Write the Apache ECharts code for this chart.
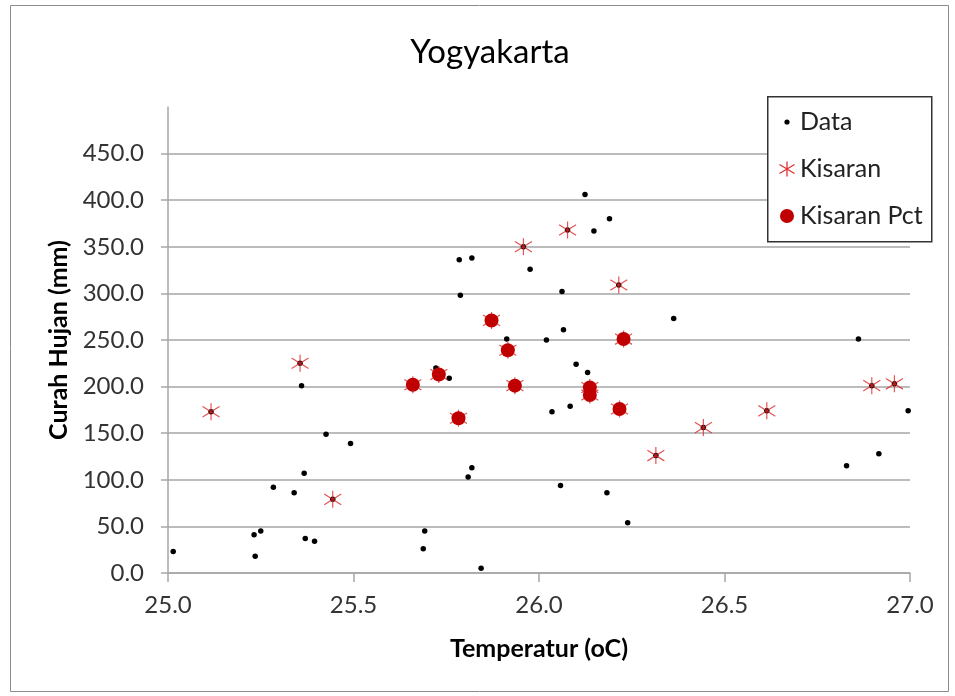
<!DOCTYPE html>
<html><head><meta charset="utf-8">
<script src="https://cdn.jsdelivr.net/npm/echarts@6/dist/echarts.min.js"></script>
<style>html,body{margin:0;padding:0;background:#fff}#c{width:955px;height:696px}</style>
</head><body><div id="c"></div>
<script>
// Data series (Temperatur oC, Curah Hujan mm)
const dataPoints = [
 [25.014,23],[25.232,41],[25.250,45],[25.235,18],[25.284,92],[25.340,86],[25.360,201],[25.367,107],
 [25.370,37],[25.395,34],[25.426,149],[25.492,139],[25.688,26],[25.692,45],[25.722,220],[25.758,209],
 [25.785,336],[25.788,298],[25.809,103],[25.819,113],[25.819,338],[25.844,5],[25.913,251],[25.976,326],
 [26.020,250],[26.035,173],[26.058,94],[26.062,302],[26.066,261],[26.084,179],[26.100,224],[26.124,406],
 [26.131,215],[26.148,367],[26.183,86],[26.190,380],[26.239,54],[26.363,273],[26.829,115],[26.861,251],
 [26.916,128],[26.995,174]
];
const kisaranStars = [
 [25.116,173],[25.356,225],[25.444,79],[25.958,350],[26.077,368],[26.215,309],[26.315,126],
 [26.443,156],[26.614,174],[26.897,201],[26.958,203]
];
const kisaranPct = [
 [25.660,202],[25.730,213],[25.783,166],[25.872,271],[25.916,239],[25.935,201],
 [26.137,199],[26.137,191],[26.217,176],[26.228,251]
];
const xTicks = [25.0, 25.5, 26.0, 26.5, 27.0];
const yTicks = [0, 50, 100, 150, 200, 250, 300, 350, 400, 450];

const allData = dataPoints.concat(kisaranStars, kisaranPct);
const allKisaran = kisaranStars.concat(kisaranPct);

const STAR = 'path://M8,0L8,16M0,3L16,13M0,13L16,3';
const svg = s => 'image://data:image/svg+xml;charset=utf-8,' + encodeURIComponent(s);
const iconDot = svg('<svg xmlns="http://www.w3.org/2000/svg" width="16" height="16"><circle cx="8" cy="8" r="2.6" fill="#000"/></svg>');
const iconStar = svg('<svg xmlns="http://www.w3.org/2000/svg" width="16" height="16"><path d="M8,0.5L8,15.5M0.5,3.5L15.5,12.5M0.5,12.5L15.5,3.5" stroke="#e03030" stroke-width="1.3" fill="none"/></svg>');
const iconCirc = svg('<svg xmlns="http://www.w3.org/2000/svg" width="16" height="16"><circle cx="8" cy="8" r="7" fill="#c00000"/></svg>');

const FONT = 'Lato';
const chart = echarts.init(document.getElementById('c'), null, {renderer: 'canvas'});
chart.setOption({
  animation: false,
  backgroundColor: '#fff',
  title: {
    text: 'Yogyakarta', left: 485, top: 31, textAlign: 'center',
    textStyle: {fontFamily: FONT, fontSize: 33, fontWeight: 'normal', color: '#000'}
  },
  graphic: [
    {type: 'rect', left: 8, top: 3, shape: {width: 938, height: 686}, style: {fill: 'none', stroke: '#8c8c8c', lineWidth: 1}, silent: true},
    {type: 'rect', left: 767, top: 96, shape: {width: 164, height: 145}, style: {fill: '#fff', stroke: '#333', lineWidth: 1.5}, z: 90, silent: true}
  ],
  legend: {
    orient: 'vertical', left: 779, top: 107, z: 100, padding: 0,
    itemWidth: 16, itemHeight: 16, itemGap: 17, itemTextGap: 7,
    textStyle: {fontFamily: FONT, fontSize: 25, color: '#222', lineHeight: 30},
    data: [
      {name: 'Data', icon: iconDot},
      {name: 'Kisaran', icon: iconStar},
      {name: 'Kisaran Pct', icon: iconCirc}
    ]
  },
  grid: {left: 168, right: 45, top: 107, bottom: 123, containLabel: false},
  xAxis: {
    type: 'value', min: 25, max: 27, interval: 0.5,
    name: 'Temperatur (oC)', nameLocation: 'middle', nameGap: 63,
    nameTextStyle: {fontFamily: FONT, fontSize: 25, fontWeight: 'bold', color: '#000'},
    axisLine: {show: true, lineStyle: {color: '#a6a6a6', width: 1.5}},
    axisTick: {show: true, inside: false, length: 9, lineStyle: {color: '#a6a6a6', width: 1.5}},
    axisLabel: {margin: 20, fontFamily: FONT, fontSize: 24, color: '#333',
      customValues: xTicks, formatter: v => v.toFixed(1)},
    splitLine: {show: false}
  },
  yAxis: {
    type: 'value', min: 0, max: 500, interval: 50,
    name: 'Curah Hujan (mm)', nameLocation: 'middle', nameGap: 97,
    nameTextStyle: {fontFamily: FONT, fontSize: 25, fontWeight: 'bold', color: '#000'},
    axisLine: {show: true, lineStyle: {color: '#a6a6a6', width: 1.5}},
    axisTick: {show: true, inside: false, length: 7, customValues: yTicks, lineStyle: {color: '#a6a6a6', width: 1.5}},
    axisLabel: {margin: 24, fontFamily: FONT, fontSize: 24, color: '#333',
      customValues: yTicks, formatter: v => v.toFixed(1)},
    splitLine: {show: true, lineStyle: {color: '#a6a6a6', width: 1.5}}
  },
  series: [
    {name: 'Data', type: 'scatter', data: allData, symbol: 'circle', symbolSize: 5.5,
      itemStyle: {color: '#000', opacity: 1}, z: 2},
    {name: 'Kisaran', type: 'scatter', data: allKisaran, symbol: STAR, symbolSize: 17,
      itemStyle: {color: 'none', borderColor: 'rgba(222,40,40,0.8)', borderWidth: 1.2, opacity: 1}, z: 3},
    {name: 'Kisaran Pct', type: 'scatter', data: kisaranPct, symbol: 'circle', symbolSize: 14,
      itemStyle: {color: '#c00000', opacity: 1}, z: 4}
  ]
});
</script></body></html>
